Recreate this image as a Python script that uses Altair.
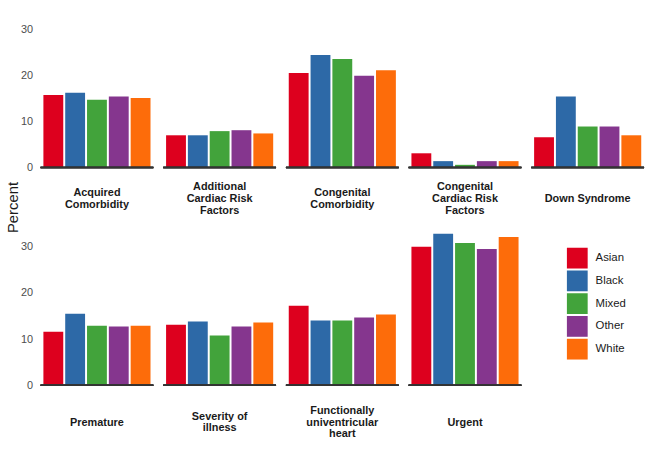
import altair as alt
import pandas as pd

categories = [
    "Acquired|Comorbidity",
    "Additional|Cardiac Risk|Factors",
    "Congenital|Comorbidity",
    "Congenital|Cardiac Risk|Factors",
    "Down Syndrome",
    "Premature",
    "Severity of|illness",
    "Functionally|univentricular|heart",
    "Urgent",
]
ethnicities = ["Asian", "Black", "Mixed", "Other", "White"]
asian = [15.7, 7.0, 20.5, 3.1, 6.6, 11.6, 13.1, 17.2, 30.0]
black = [16.2, 7.0, 24.4, 1.4, 15.4, 15.5, 13.8, 14.0, 32.8]
mixed = [14.7, 7.9, 23.5, 0.6, 8.9, 12.9, 10.8, 14.0, 30.8]
other = [15.4, 8.1, 19.9, 1.4, 8.9, 12.7, 12.7, 14.7, 29.5]
white = [15.1, 7.4, 21.1, 1.4, 7.0, 12.9, 13.6, 15.3, 32.1]
colors = ["#DD001E", "#2D69A7", "#42A33B", "#85368E", "#FD6C0A"]

series = [asian, black, mixed, other, white]
rows = []
for ci, cat in enumerate(categories):
    for ei, eth in enumerate(ethnicities):
        rows.append({"Category": cat, "Ethnicity": eth, "Percent": series[ei][ci]})
df = pd.DataFrame(rows)
cats1 = categories[:5]
cats2 = categories[5:]
df1 = df[df["Category"].isin(cats1)]
df2 = df[df["Category"].isin(cats2)]

FONT = "Liberation Sans"

bars = alt.Chart().mark_bar().encode(
    x=alt.X(
        "Ethnicity:N",
        sort=ethnicities,
        scale=alt.Scale(paddingInner=0.09, paddingOuter=0.13),
        axis=None,
    ),
    y=alt.Y(
        "Percent:Q",
        scale=alt.Scale(domain=[0, 33], nice=False),
        axis=alt.Axis(values=[0, 10, 20, 30], grid=False, domain=False, ticks=False,
                      title=None, labelColor="#4d4d4d", labelFontSize=11,
                      labelFont=FONT, labelPadding=7),
    ),
    color=alt.Color(
        "Ethnicity:N",
        sort=ethnicities,
        scale=alt.Scale(domain=ethnicities, range=colors),
        legend=alt.Legend(
            title=None, orient="none", legendX=532, legendY=235,
            symbolType="square", symbolSize=441, symbolStrokeWidth=0,
            rowPadding=2, labelOffset=8, labelFontSize=11.5, labelFont=FONT,
            labelColor="#1a1a1a",
        ),
    ),
)
baseline = alt.Chart().mark_rule(color="#333333", strokeWidth=1.5).encode(
    y=alt.datum(0)
)
base = alt.layer(bars, baseline).properties(width=114, height=154)

# zero-width space keeps spacer lines from being trimmed away
NB = "'\u200b'"
LABEL_EXPR = (
    f"length(split(datum.label, '|')) == 1 ? [{NB}, {NB}, datum.label, {NB}, {NB}] : "
    "length(split(datum.label, '|')) == 2 ? "
    f"[{NB}, split(datum.label, '|')[0], {NB}, split(datum.label, '|')[1], {NB}] : "
    f"[split(datum.label, '|')[0], {NB}, split(datum.label, '|')[1], {NB}, split(datum.label, '|')[2]]"
)


def hdr(pad):
    return alt.Header(
        labelOrient="bottom", title=None,
        labelExpr=LABEL_EXPR,
        labelFont=FONT, labelFontSize=11, labelFontWeight="bold",
        labelColor="#1a1a1a", labelBaseline="middle", labelLineHeight=6,
        labelPadding=pad,
    )


row1 = alt.FacetChart(
    spec=base, facet=alt.Facet("Category:N", sort=cats1, header=hdr(19)),
    columns=5, data=df1, spacing=8,
)
row2 = alt.FacetChart(
    spec=base, facet=alt.Facet("Category:N", sort=cats2, header=hdr(25)),
    columns=5, data=df2, spacing=8,
)

chart = alt.vconcat(row1, row2, spacing=17).properties(
    title=alt.TitleParams("Percent", orient="left", anchor="middle", fontSize=15,
                          fontWeight="normal", font=FONT, color="#1a1a1a", offset=0,
                          dx=20),
    padding={"left": 5, "top": 13, "right": 5, "bottom": 5},
).configure_view(stroke=None)

chart.save("out.html", embed_options={"renderer": "svg", "actions": False})
